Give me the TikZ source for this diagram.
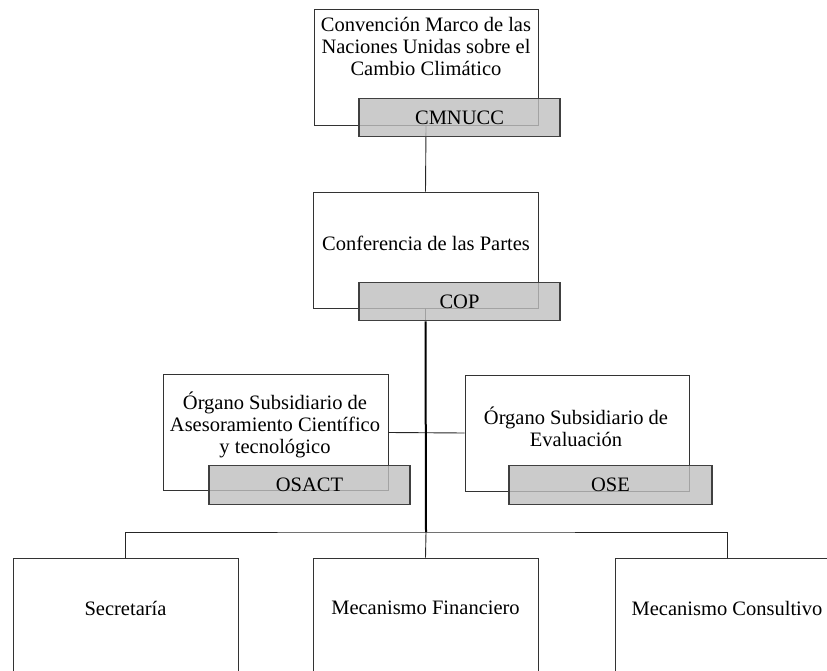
\documentclass[tikz,border=0pt]{standalone}
\usepackage{fontspec}
\setmainfont{Liberation Serif}
\begin{document}
\begin{tikzpicture}[x=1pt,y=-1pt,
  wbox/.style={draw=black!80,line width=0.9pt,fill=white,minimum width=#1,minimum height=116pt,inner sep=0pt,anchor=center},
  gbox/.style={draw=black!75,line width=1.2pt,fill=black!25,fill opacity=0.8,text opacity=1,minimum width=#1,minimum height=38.5pt,inner sep=0pt,anchor=center,
    font=\fontsize{20.5pt}{22pt}\selectfont},
  lbl/.style={inner sep=0pt,align=center,font=\fontsize{20.5pt}{22pt}\selectfont},
  conn/.style={draw=black!85,line width=0.9pt},
  thickconn/.style={draw=black,line width=2pt}]
\useasboundingbox (0,0) rectangle (827,671);
\clip (0,0) rectangle (827,671);
% white boxes
\node[wbox=224pt] (cm) at (426,67) {};
\node[wbox=225pt] (cop) at (425.5,250) {};
\node[wbox=225pt] (osact) at (275.5,432.5) {};
\node[wbox=224pt] (ose) at (577,433) {};
\node[wbox=225pt] (sec) at (125.5,616) {};
\node[wbox=225pt] (fin) at (425.5,616) {};
\node[wbox=225pt] (con) at (727.5,616) {};
% texts
\node[lbl] (cmt) at (426,46) {Convención Marco de las\\Naciones Unidas sobre el\\Cambio Climático};
\node[lbl] (copt) at (426,243) {Conferencia de las Partes};
\node[lbl] (osactt) at (275,425) {Órgano Subsidiario de\\Asesoramiento Científico\\y tecnológico};
\node[lbl] (oset) at (576,426.5) {Órgano Subsidiario de\\Evaluación};
\node[lbl] (sect) at (125.5,608) {Secretaría};
\node[lbl] (fint) at (425.5,608) {Mecanismo Financiero};
\node[lbl] (cont) at (727,608) {Mecanismo Consultivo};
% connectors
\coordinate (bus) at (426,532);
\draw[conn] (cm.south) -- (cop.north);
\draw[conn] (osact.east) -- (ose.west);
\draw[conn] (cop.south) -- ++(0,13) coordinate (copbot);
\draw[thickconn] (copbot) -- (bus);
\draw[conn] (sec.north) |- (bus) -| (con.north);
\draw[conn] (bus) -- (fin.north);
% gray boxes
\node[gbox=201pt] (cmg) at (459.5,117.5) {CMNUCC};
\node[gbox=201pt] (copg) at (459.5,301.5) {COP};
\node[gbox=201pt] (osactg) at (309.5,485) {OSACT};
\node[gbox=203pt] (oseg) at (610.5,485) {OSE};
\end{tikzpicture}
\end{document}
